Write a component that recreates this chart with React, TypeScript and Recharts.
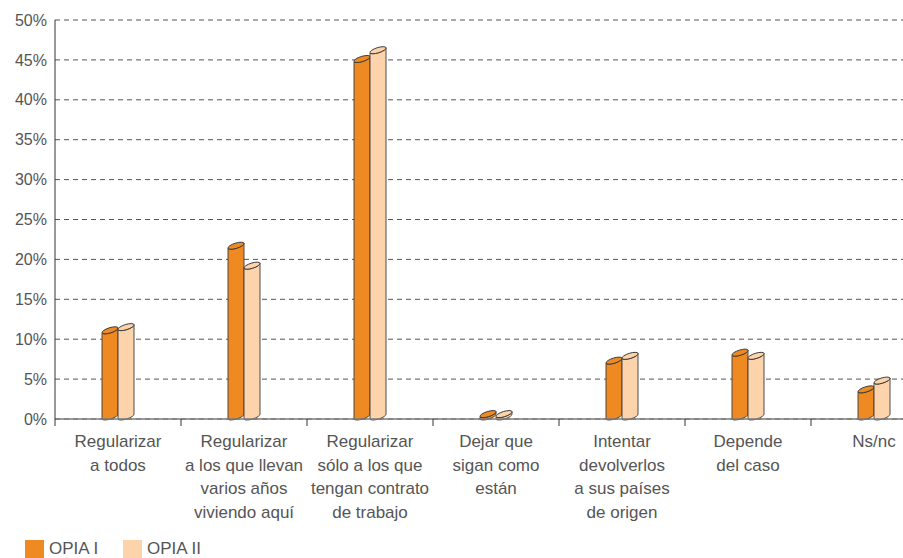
import { BarChart, Bar, XAxis, YAxis, CartesianGrid, Legend } from 'recharts';

const categories = [
  'Regularizar a todos',
  'Regularizar a los que llevan varios años viviendo aquí',
  'Regularizar sólo a los que tengan contrato de trabajo',
  'Dejar que sigan como están',
  'Intentar devolverlos a sus países de origen',
  'Depende del caso',
  'Ns/nc',
];

// how each category label is broken into lines
const categoryLines = [
  ['Regularizar', 'a todos'],
  ['Regularizar', 'a los que llevan', 'varios años', 'viviendo aquí'],
  ['Regularizar', 'sólo a los que', 'tengan contrato', 'de trabajo'],
  ['Dejar que', 'sigan como', 'están'],
  ['Intentar', 'devolverlos', 'a sus países', 'de origen'],
  ['Depende', 'del caso'],
  ['Ns/nc'],
];

const opia1 = [10.8, 21.4, 44.8, 0.3, 7.0, 8.0, 3.4];
const opia2 = [11.2, 18.9, 45.9, 0.3, 7.6, 7.6, 4.5];

const seriesNames = ['OPIA I', 'OPIA II'];
const seriesColors = ['#EE8A21', '#FCD3AA'];
const yTicks = [0, 5, 10, 15, 20, 25, 30, 35, 40, 45, 50];

const data = categories.map((name, i) => ({ name, opia1: opia1[i], opia2: opia2[i] }));

const FONT = '"Liberation Sans", Arial, sans-serif';
const TEXT = '#555';

function Cylinder(props: any) {
  const { x, y, width, height, fill } = props;
  if (x == null || y == null || !width || height == null) return null;
  const rise = 5;
  const rx = Math.sqrt(width * width + rise * rise) / 2;
  const ry = 2.6;
  const rot = (-Math.atan2(rise, width) * 180) / Math.PI;
  const yb = y + height;
  const body = `M${x},${y} L${x},${yb} A${rx},${ry} ${rot} 0 0 ${x + width},${yb - rise} L${x + width},${y - rise} A${rx},${ry} ${rot} 0 1 ${x},${y} Z`;
  const cx = x + width / 2;
  const cy = y - rise / 2;
  return (
    <g>
      <path d={body} fill={fill} stroke="#3a3a3a" strokeWidth={0.9} />
      <ellipse
        cx={cx}
        cy={cy}
        rx={rx}
        ry={ry}
        transform={`rotate(${rot} ${cx} ${cy})`}
        fill={fill}
        stroke="#3a3a3a"
        strokeWidth={0.9}
      />
    </g>
  );
}

function CategoryTick(props: any) {
  const { x, y, payload, index } = props;
  const i = payload?.index ?? index;
  const off = payload?.offset ?? 63;
  const lines = categoryLines[i] || [];
  return (
    <g>
      {i === 0 && <line x1={x - off} x2={x - off} y1={y} y2={y + 7} stroke="#333" />}
      <line x1={x + off} x2={x + off} y1={y} y2={y + 7} stroke="#333" />
      <text x={x} y={y + 28} textAnchor="middle" fill={TEXT} fontSize={17} fontFamily={FONT}>
        {lines.map((l, k) => (
          <tspan key={k} x={x} dy={k === 0 ? 0 : 23.5}>
            {l}
          </tspan>
        ))}
      </text>
    </g>
  );
}

function LegendBox() {
  return (
    <div style={{ display: 'flex', alignItems: 'center', fontFamily: FONT, fontSize: 17, color: TEXT }}>
      {seriesNames.map((n, i) => (
        <div key={n} style={{ display: 'flex', alignItems: 'center', width: 98 }}>
          <span style={{ display: 'inline-block', width: 19, height: 18, background: seriesColors[i], marginRight: 5 }} />
          <span>{n}</span>
        </div>
      ))}
    </div>
  );
}

export default function App() {
  return (
    <div
      style={{
        position: 'fixed',
        left: 0,
        top: 0,
        width: 903,
        height: 558,
        overflow: 'hidden',
        background: '#fff',
      }}
    >
      <BarChart
        width={940}
        height={580}
        data={data}
        margin={{ top: 20, right: 3, left: 0, bottom: 51 }}
        barSize={16}
        barGap={0}
      >
        <CartesianGrid vertical={false} strokeDasharray="5 4" stroke="#555" />
        <XAxis
          dataKey="name"
          height={110}
          interval={0}
          tickSize={0}
          tickMargin={0}
          tickLine={false}
          axisLine={{ stroke: '#7a7a7a', strokeWidth: 1.5 }}
          tick={<CategoryTick />}
        />
        <YAxis
          width={55}
          domain={[0, 50]}
          ticks={yTicks}
          interval={0}
          tickLine={false}
          axisLine={{ stroke: '#333' }}
          tickFormatter={(v: number) => `${v}%`}
          tick={{ fill: TEXT, fontSize: 16, fontFamily: FONT }}
        />
        <Legend
          layout="horizontal"
          verticalAlign="middle"
          align="center"
          wrapperStyle={{ top: 539, left: 25, width: 300, height: 20 }}
          content={() => <LegendBox />}
        />
        <Bar dataKey="opia1" name={seriesNames[0]} fill={seriesColors[0]} shape={<Cylinder />} isAnimationActive={false} />
        <Bar dataKey="opia2" name={seriesNames[1]} fill={seriesColors[1]} shape={<Cylinder />} isAnimationActive={false} />
      </BarChart>
    </div>
  );
}
